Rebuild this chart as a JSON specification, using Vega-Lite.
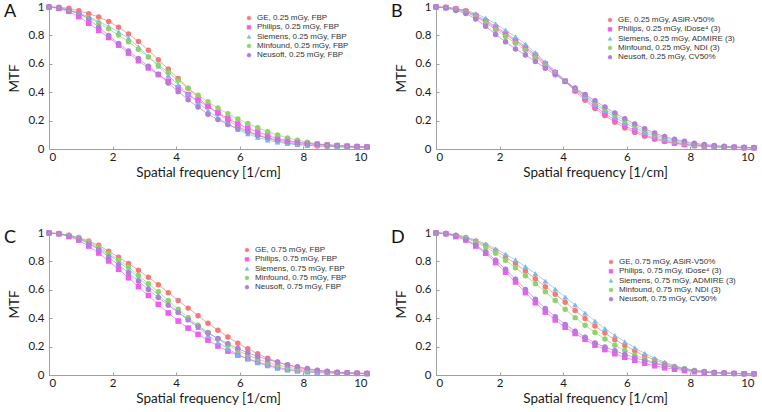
{
"$schema":"https://vega.github.io/schema/vega-lite/v6.json",
"padding":{"left":3,"top":1,"right":2,"bottom":2},
"background":"white",
"datasets":{
"A":[
{"x":0,"GE":1,"Philips":1,"Siemens":1,"Minfound":1,"Neusoft":1},
{"x":0.3125,"GE":0.998,"Philips":0.99,"Siemens":0.996,"Minfound":0.994,"Neusoft":0.994},
{"x":0.625,"GE":0.991,"Philips":0.969,"Siemens":0.981,"Minfound":0.976,"Neusoft":0.976},
{"x":0.9375,"GE":0.973,"Philips":0.932,"Siemens":0.959,"Minfound":0.955,"Neusoft":0.955},
{"x":1.25,"GE":0.953,"Philips":0.885,"Siemens":0.93,"Minfound":0.923,"Neusoft":0.915},
{"x":1.5625,"GE":0.929,"Philips":0.835,"Siemens":0.898,"Minfound":0.887,"Neusoft":0.858},
{"x":1.875,"GE":0.898,"Philips":0.785,"Siemens":0.864,"Minfound":0.846,"Neusoft":0.799},
{"x":2.1875,"GE":0.857,"Philips":0.731,"Siemens":0.824,"Minfound":0.802,"Neusoft":0.743},
{"x":2.5,"GE":0.81,"Philips":0.675,"Siemens":0.78,"Minfound":0.755,"Neusoft":0.69},
{"x":2.8125,"GE":0.757,"Philips":0.622,"Siemens":0.718,"Minfound":0.702,"Neusoft":0.637},
{"x":3.125,"GE":0.695,"Philips":0.571,"Siemens":0.653,"Minfound":0.648,"Neusoft":0.583},
{"x":3.4375,"GE":0.628,"Philips":0.524,"Siemens":0.584,"Minfound":0.591,"Neusoft":0.526},
{"x":3.75,"GE":0.563,"Philips":0.478,"Siemens":0.518,"Minfound":0.538,"Neusoft":0.465},
{"x":4.0625,"GE":0.497,"Philips":0.431,"Siemens":0.452,"Minfound":0.484,"Neusoft":0.404},
{"x":4.375,"GE":0.428,"Philips":0.384,"Siemens":0.386,"Minfound":0.427,"Neusoft":0.347},
{"x":4.6875,"GE":0.362,"Philips":0.34,"Siemens":0.326,"Minfound":0.378,"Neusoft":0.295},
{"x":5,"GE":0.3,"Philips":0.3,"Siemens":0.27,"Minfound":0.332,"Neusoft":0.245},
{"x":5.3125,"GE":0.25,"Philips":0.256,"Siemens":0.22,"Minfound":0.289,"Neusoft":0.207},
{"x":5.625,"GE":0.203,"Philips":0.215,"Siemens":0.175,"Minfound":0.248,"Neusoft":0.173},
{"x":5.9375,"GE":0.159,"Philips":0.177,"Siemens":0.137,"Minfound":0.212,"Neusoft":0.145},
{"x":6.25,"GE":0.125,"Philips":0.147,"Siemens":0.107,"Minfound":0.18,"Neusoft":0.12},
{"x":6.5625,"GE":0.096,"Philips":0.12,"Siemens":0.081,"Minfound":0.15,"Neusoft":0.097},
{"x":6.875,"GE":0.074,"Philips":0.095,"Siemens":0.062,"Minfound":0.122,"Neusoft":0.079},
{"x":7.1875,"GE":0.056,"Philips":0.075,"Siemens":0.048,"Minfound":0.098,"Neusoft":0.064},
{"x":7.5,"GE":0.042,"Philips":0.06,"Siemens":0.037,"Minfound":0.078,"Neusoft":0.052},
{"x":7.8125,"GE":0.033,"Philips":0.047,"Siemens":0.031,"Minfound":0.062,"Neusoft":0.045},
{"x":8.125,"GE":0.026,"Philips":0.038,"Siemens":0.026,"Minfound":0.048,"Neusoft":0.038},
{"x":8.4375,"GE":0.021,"Philips":0.033,"Siemens":0.023,"Minfound":0.037,"Neusoft":0.033},
{"x":8.75,"GE":0.018,"Philips":0.028,"Siemens":0.02,"Minfound":0.03,"Neusoft":0.029},
{"x":9.0625,"GE":0.015,"Philips":0.024,"Siemens":0.017,"Minfound":0.024,"Neusoft":0.024},
{"x":9.375,"GE":0.013,"Philips":0.02,"Siemens":0.014,"Minfound":0.02,"Neusoft":0.02},
{"x":9.6875,"GE":0.011,"Philips":0.017,"Siemens":0.012,"Minfound":0.017,"Neusoft":0.017},
{"x":10,"GE":0.01,"Philips":0.015,"Siemens":0.01,"Minfound":0.015,"Neusoft":0.015}
],
"B":[
{"x":0,"GE":1,"Philips":1,"Siemens":1,"Minfound":1,"Neusoft":1},
{"x":0.3125,"GE":0.998,"Philips":0.996,"Siemens":0.998,"Minfound":0.996,"Neusoft":0.993},
{"x":0.625,"GE":0.989,"Philips":0.984,"Siemens":0.99,"Minfound":0.983,"Neusoft":0.976},
{"x":0.9375,"GE":0.973,"Philips":0.968,"Siemens":0.977,"Minfound":0.964,"Neusoft":0.955},
{"x":1.25,"GE":0.943,"Philips":0.935,"Siemens":0.953,"Minfound":0.93,"Neusoft":0.915},
{"x":1.5625,"GE":0.906,"Philips":0.896,"Siemens":0.922,"Minfound":0.89,"Neusoft":0.864},
{"x":1.875,"GE":0.863,"Philips":0.852,"Siemens":0.882,"Minfound":0.84,"Neusoft":0.807},
{"x":2.1875,"GE":0.817,"Philips":0.807,"Siemens":0.837,"Minfound":0.792,"Neusoft":0.755},
{"x":2.5,"GE":0.77,"Philips":0.76,"Siemens":0.79,"Minfound":0.745,"Neusoft":0.705},
{"x":2.8125,"GE":0.72,"Philips":0.71,"Siemens":0.738,"Minfound":0.695,"Neusoft":0.662},
{"x":3.125,"GE":0.665,"Philips":0.656,"Siemens":0.679,"Minfound":0.643,"Neusoft":0.617},
{"x":3.4375,"GE":0.603,"Philips":0.597,"Siemens":0.613,"Minfound":0.586,"Neusoft":0.569},
{"x":3.75,"GE":0.54,"Philips":0.537,"Siemens":0.548,"Minfound":0.532,"Neusoft":0.523},
{"x":4.0625,"GE":0.476,"Philips":0.477,"Siemens":0.483,"Minfound":0.479,"Neusoft":0.476},
{"x":4.375,"GE":0.407,"Philips":0.415,"Siemens":0.424,"Minfound":0.426,"Neusoft":0.429},
{"x":4.6875,"GE":0.344,"Philips":0.356,"Siemens":0.368,"Minfound":0.375,"Neusoft":0.384},
{"x":5,"GE":0.285,"Philips":0.3,"Siemens":0.315,"Minfound":0.325,"Neusoft":0.34},
{"x":5.3125,"GE":0.235,"Philips":0.25,"Siemens":0.268,"Minfound":0.281,"Neusoft":0.296},
{"x":5.625,"GE":0.189,"Philips":0.204,"Siemens":0.224,"Minfound":0.239,"Neusoft":0.254},
{"x":5.9375,"GE":0.148,"Philips":0.163,"Siemens":0.183,"Minfound":0.198,"Neusoft":0.213},
{"x":6.25,"GE":0.117,"Philips":0.13,"Siemens":0.148,"Minfound":0.163,"Neusoft":0.177},
{"x":6.5625,"GE":0.089,"Philips":0.1,"Siemens":0.115,"Minfound":0.129,"Neusoft":0.143},
{"x":6.875,"GE":0.069,"Philips":0.077,"Siemens":0.09,"Minfound":0.101,"Neusoft":0.112},
{"x":7.1875,"GE":0.052,"Philips":0.058,"Siemens":0.069,"Minfound":0.079,"Neusoft":0.088},
{"x":7.5,"GE":0.04,"Philips":0.042,"Siemens":0.05,"Minfound":0.06,"Neusoft":0.068},
{"x":7.8125,"GE":0.031,"Philips":0.032,"Siemens":0.038,"Minfound":0.046,"Neusoft":0.054},
{"x":8.125,"GE":0.023,"Philips":0.025,"Siemens":0.028,"Minfound":0.035,"Neusoft":0.041},
{"x":8.4375,"GE":0.019,"Philips":0.02,"Siemens":0.021,"Minfound":0.027,"Neusoft":0.032},
{"x":8.75,"GE":0.015,"Philips":0.016,"Siemens":0.018,"Minfound":0.021,"Neusoft":0.025},
{"x":9.0625,"GE":0.012,"Philips":0.012,"Siemens":0.015,"Minfound":0.016,"Neusoft":0.019},
{"x":9.375,"GE":0.01,"Philips":0.011,"Siemens":0.012,"Minfound":0.013,"Neusoft":0.015},
{"x":9.6875,"GE":0.009,"Philips":0.009,"Siemens":0.01,"Minfound":0.011,"Neusoft":0.012},
{"x":10,"GE":0.008,"Philips":0.008,"Siemens":0.008,"Minfound":0.009,"Neusoft":0.01}
],
"C":[
{"x":0,"GE":1,"Philips":1,"Siemens":1,"Minfound":1,"Neusoft":1},
{"x":0.3125,"GE":0.996,"Philips":0.994,"Siemens":0.996,"Minfound":0.996,"Neusoft":0.994},
{"x":0.625,"GE":0.984,"Philips":0.975,"Siemens":0.983,"Minfound":0.984,"Neusoft":0.978},
{"x":0.9375,"GE":0.968,"Philips":0.95,"Siemens":0.964,"Minfound":0.968,"Neusoft":0.959},
{"x":1.25,"GE":0.943,"Philips":0.908,"Siemens":0.93,"Minfound":0.938,"Neusoft":0.925},
{"x":1.5625,"GE":0.913,"Philips":0.859,"Siemens":0.891,"Minfound":0.901,"Neusoft":0.884},
{"x":1.875,"GE":0.872,"Philips":0.803,"Siemens":0.848,"Minfound":0.858,"Neusoft":0.831},
{"x":2.1875,"GE":0.829,"Philips":0.744,"Siemens":0.798,"Minfound":0.81,"Neusoft":0.776},
{"x":2.5,"GE":0.785,"Philips":0.685,"Siemens":0.745,"Minfound":0.76,"Neusoft":0.72},
{"x":2.8125,"GE":0.738,"Philips":0.622,"Siemens":0.686,"Minfound":0.701,"Neusoft":0.661},
{"x":3.125,"GE":0.689,"Philips":0.56,"Siemens":0.625,"Minfound":0.643,"Neusoft":0.602},
{"x":3.4375,"GE":0.636,"Philips":0.497,"Siemens":0.562,"Minfound":0.586,"Neusoft":0.546},
{"x":3.75,"GE":0.58,"Philips":0.437,"Siemens":0.503,"Minfound":0.525,"Neusoft":0.492},
{"x":4.0625,"GE":0.524,"Philips":0.38,"Siemens":0.444,"Minfound":0.463,"Neusoft":0.44},
{"x":4.375,"GE":0.471,"Philips":0.33,"Siemens":0.388,"Minfound":0.404,"Neusoft":0.39},
{"x":4.6875,"GE":0.418,"Philips":0.286,"Siemens":0.333,"Minfound":0.35,"Neusoft":0.34},
{"x":5,"GE":0.365,"Philips":0.245,"Siemens":0.28,"Minfound":0.3,"Neusoft":0.295},
{"x":5.3125,"GE":0.315,"Philips":0.204,"Siemens":0.23,"Minfound":0.253,"Neusoft":0.257},
{"x":5.625,"GE":0.268,"Philips":0.168,"Siemens":0.184,"Minfound":0.21,"Neusoft":0.221},
{"x":5.9375,"GE":0.224,"Philips":0.14,"Siemens":0.143,"Minfound":0.172,"Neusoft":0.187},
{"x":6.25,"GE":0.185,"Philips":0.115,"Siemens":0.113,"Minfound":0.14,"Neusoft":0.157},
{"x":6.5625,"GE":0.149,"Philips":0.091,"Siemens":0.086,"Minfound":0.111,"Neusoft":0.13},
{"x":6.875,"GE":0.118,"Philips":0.072,"Siemens":0.064,"Minfound":0.089,"Neusoft":0.109},
{"x":7.1875,"GE":0.092,"Philips":0.055,"Siemens":0.047,"Minfound":0.07,"Neusoft":0.089},
{"x":7.5,"GE":0.07,"Philips":0.04,"Siemens":0.035,"Minfound":0.055,"Neusoft":0.072},
{"x":7.8125,"GE":0.054,"Philips":0.032,"Siemens":0.027,"Minfound":0.043,"Neusoft":0.058},
{"x":8.125,"GE":0.041,"Philips":0.026,"Siemens":0.02,"Minfound":0.032,"Neusoft":0.045},
{"x":8.4375,"GE":0.032,"Philips":0.021,"Siemens":0.016,"Minfound":0.026,"Neusoft":0.034},
{"x":8.75,"GE":0.025,"Philips":0.018,"Siemens":0.014,"Minfound":0.021,"Neusoft":0.026},
{"x":9.0625,"GE":0.019,"Philips":0.015,"Siemens":0.012,"Minfound":0.017,"Neusoft":0.019},
{"x":9.375,"GE":0.016,"Philips":0.013,"Siemens":0.01,"Minfound":0.014,"Neusoft":0.015},
{"x":9.6875,"GE":0.014,"Philips":0.011,"Siemens":0.009,"Minfound":0.012,"Neusoft":0.012},
{"x":10,"GE":0.012,"Philips":0.01,"Siemens":0.008,"Minfound":0.01,"Neusoft":0.01}
],
"D":[
{"x":0,"GE":1,"Philips":1,"Siemens":1,"Minfound":1,"Neusoft":1},
{"x":0.3125,"GE":0.996,"Philips":0.994,"Siemens":0.998,"Minfound":0.996,"Neusoft":0.996},
{"x":0.625,"GE":0.984,"Philips":0.975,"Siemens":0.989,"Minfound":0.983,"Neusoft":0.98},
{"x":0.9375,"GE":0.968,"Philips":0.95,"Siemens":0.973,"Minfound":0.964,"Neusoft":0.955},
{"x":1.25,"GE":0.943,"Philips":0.908,"Siemens":0.95,"Minfound":0.935,"Neusoft":0.915},
{"x":1.5625,"GE":0.913,"Philips":0.857,"Siemens":0.923,"Minfound":0.901,"Neusoft":0.868},
{"x":1.875,"GE":0.876,"Philips":0.791,"Siemens":0.889,"Minfound":0.858,"Neusoft":0.809},
{"x":2.1875,"GE":0.832,"Philips":0.724,"Siemens":0.851,"Minfound":0.808,"Neusoft":0.744},
{"x":2.5,"GE":0.785,"Philips":0.655,"Siemens":0.81,"Minfound":0.755,"Neusoft":0.675},
{"x":2.8125,"GE":0.732,"Philips":0.58,"Siemens":0.764,"Minfound":0.699,"Neusoft":0.603},
{"x":3.125,"GE":0.678,"Philips":0.509,"Siemens":0.714,"Minfound":0.643,"Neusoft":0.534},
{"x":3.4375,"GE":0.621,"Philips":0.443,"Siemens":0.661,"Minfound":0.586,"Neusoft":0.468},
{"x":3.75,"GE":0.568,"Philips":0.388,"Siemens":0.605,"Minfound":0.525,"Neusoft":0.41},
{"x":4.0625,"GE":0.513,"Philips":0.336,"Siemens":0.549,"Minfound":0.463,"Neusoft":0.356},
{"x":4.375,"GE":0.454,"Philips":0.292,"Siemens":0.493,"Minfound":0.404,"Neusoft":0.309},
{"x":4.6875,"GE":0.398,"Philips":0.251,"Siemens":0.436,"Minfound":0.35,"Neusoft":0.266},
{"x":5,"GE":0.345,"Philips":0.21,"Siemens":0.38,"Minfound":0.3,"Neusoft":0.225},
{"x":5.3125,"GE":0.295,"Philips":0.179,"Siemens":0.327,"Minfound":0.253,"Neusoft":0.197},
{"x":5.625,"GE":0.249,"Philips":0.15,"Siemens":0.278,"Minfound":0.21,"Neusoft":0.17},
{"x":5.9375,"GE":0.208,"Philips":0.125,"Siemens":0.234,"Minfound":0.172,"Neusoft":0.145},
{"x":6.25,"GE":0.17,"Philips":0.103,"Siemens":0.192,"Minfound":0.14,"Neusoft":0.122},
{"x":6.5625,"GE":0.134,"Philips":0.082,"Siemens":0.152,"Minfound":0.111,"Neusoft":0.101},
{"x":6.875,"GE":0.106,"Philips":0.065,"Siemens":0.119,"Minfound":0.089,"Neusoft":0.083},
{"x":7.1875,"GE":0.081,"Philips":0.051,"Siemens":0.09,"Minfound":0.07,"Neusoft":0.066},
{"x":7.5,"GE":0.06,"Philips":0.04,"Siemens":0.065,"Minfound":0.055,"Neusoft":0.05},
{"x":7.8125,"GE":0.044,"Philips":0.031,"Siemens":0.048,"Minfound":0.042,"Neusoft":0.038},
{"x":8.125,"GE":0.032,"Philips":0.023,"Siemens":0.034,"Minfound":0.031,"Neusoft":0.028},
{"x":8.4375,"GE":0.024,"Philips":0.018,"Siemens":0.024,"Minfound":0.024,"Neusoft":0.021},
{"x":8.75,"GE":0.018,"Philips":0.015,"Siemens":0.019,"Minfound":0.018,"Neusoft":0.018},
{"x":9.0625,"GE":0.014,"Philips":0.012,"Siemens":0.014,"Minfound":0.014,"Neusoft":0.014},
{"x":9.375,"GE":0.011,"Philips":0.011,"Siemens":0.011,"Minfound":0.011,"Neusoft":0.011},
{"x":9.6875,"GE":0.009,"Philips":0.009,"Siemens":0.009,"Minfound":0.009,"Neusoft":0.009},
{"x":10,"GE":0.008,"Philips":0.008,"Siemens":0.008,"Minfound":0.008,"Neusoft":0.008}
]
},
"columns":2,
"spacing":{"column":19,"row":48},
"resolve":{"scale":{"color":"independent","shape":"independent"},"legend":{"color":"independent","shape":"independent"}},
"concat":[
{"width":318,"height":142,"title":{"text":"A"},"data":{"name":"A"},
"transform":[{"fold":["GE","Philips","Siemens","Minfound","Neusoft"],"as":["series","mtf"]}],
"encoding":{
"x":{"field":"x","type":"quantitative","scale":{"domain":[0,10]},"axis":{"values":[0,2,4,6,8,10],"title":"Spatial frequency [1/cm]"}},
"y":{"field":"mtf","type":"quantitative","scale":{"domain":[0,1]},"axis":{"values":[0,0.2,0.4,0.6,0.8,1],"format":"~g","title":"MTF"}},
"color":{"field":"series","type":"nominal","scale":{"domain":["GE","Philips","Siemens","Minfound","Neusoft"],"range":["#f47a7a","#f25cf0","#74bde8","#8fd46a","#b07fd6"]},"legend":{"title":null,"orient":"none","legendX":196,"legendY":7,"labelExpr":"datum.label + ', 0.25 mGy, FBP'"}},
"shape":{"field":"series","type":"nominal","scale":{"domain":["GE","Philips","Siemens","Minfound","Neusoft"],"range":["circle","square","triangle-up","circle","circle"]},"legend":{"title":null,"orient":"none","legendX":196,"legendY":7,"labelExpr":"datum.label + ', 0.25 mGy, FBP'"}}},
"layer":[{"mark":{"type":"line","strokeWidth":0.7}},
{"transform":[{"filter":{"field":"series","oneOf":["Philips","Siemens","Neusoft"]}}],"mark":{"type":"point","filled":false,"size":18,"strokeWidth":0.5}},
{"transform":[{"filter":{"field":"series","oneOf":["GE","Minfound"]}}],"mark":{"type":"circle","size":3}}]},
{"width":318,"height":142,"title":{"text":"B"},"data":{"name":"B"},
"transform":[{"fold":["GE","Philips","Siemens","Minfound","Neusoft"],"as":["series","mtf"]}],
"encoding":{
"x":{"field":"x","type":"quantitative","scale":{"domain":[0,10]},"axis":{"values":[0,2,4,6,8,10],"title":"Spatial frequency [1/cm]"}},
"y":{"field":"mtf","type":"quantitative","scale":{"domain":[0,1]},"axis":{"values":[0,0.2,0.4,0.6,0.8,1],"format":"~g","title":"MTF"}},
"color":{"field":"series","type":"nominal","scale":{"domain":["GE","Philips","Siemens","Minfound","Neusoft"],"range":["#f47a7a","#f25cf0","#74bde8","#8fd46a","#b07fd6"]},"legend":{"title":null,"orient":"none","legendX":170,"legendY":9,"labelExpr":"{'GE':'GE, 0.25 mGy, ASiR-V50%','Philips':'Philips, 0.25 mGy, iDose⁴ (3)','Siemens':'Siemens, 0.25 mGy, ADMIRE (3)','Minfound':'Minfound, 0.25 mGy, NDI (3)','Neusoft':'Neusoft, 0.25 mGy, CV50%'}[datum.label]"}},
"shape":{"field":"series","type":"nominal","scale":{"domain":["GE","Philips","Siemens","Minfound","Neusoft"],"range":["circle","square","triangle-up","circle","circle"]},"legend":{"title":null,"orient":"none","legendX":170,"legendY":9,"labelExpr":"{'GE':'GE, 0.25 mGy, ASiR-V50%','Philips':'Philips, 0.25 mGy, iDose⁴ (3)','Siemens':'Siemens, 0.25 mGy, ADMIRE (3)','Minfound':'Minfound, 0.25 mGy, NDI (3)','Neusoft':'Neusoft, 0.25 mGy, CV50%'}[datum.label]"}}},
"layer":[{"mark":{"type":"line","strokeWidth":0.7}},
{"transform":[{"filter":{"field":"series","oneOf":["Philips","Siemens","Neusoft"]}}],"mark":{"type":"point","filled":false,"size":18,"strokeWidth":0.5}},
{"transform":[{"filter":{"field":"series","oneOf":["GE","Minfound"]}}],"mark":{"type":"circle","size":3}}]},
{"width":318,"height":142,"title":{"text":"C"},"data":{"name":"C"},
"transform":[{"fold":["GE","Philips","Siemens","Minfound","Neusoft"],"as":["series","mtf"]}],
"encoding":{
"x":{"field":"x","type":"quantitative","scale":{"domain":[0,10]},"axis":{"values":[0,2,4,6,8,10],"title":"Spatial frequency [1/cm]"}},
"y":{"field":"mtf","type":"quantitative","scale":{"domain":[0,1]},"axis":{"values":[0,0.2,0.4,0.6,0.8,1],"format":"~g","title":"MTF"}},
"color":{"field":"series","type":"nominal","scale":{"domain":["GE","Philips","Siemens","Minfound","Neusoft"],"range":["#f47a7a","#f25cf0","#74bde8","#8fd46a","#b07fd6"]},"legend":{"title":null,"orient":"none","legendX":194,"legendY":13,"labelExpr":"datum.label + ', 0.75 mGy, FBP'"}},
"shape":{"field":"series","type":"nominal","scale":{"domain":["GE","Philips","Siemens","Minfound","Neusoft"],"range":["circle","square","triangle-up","circle","circle"]},"legend":{"title":null,"orient":"none","legendX":194,"legendY":13,"labelExpr":"datum.label + ', 0.75 mGy, FBP'"}}},
"layer":[{"mark":{"type":"line","strokeWidth":0.7}},
{"transform":[{"filter":{"field":"series","oneOf":["Philips","Siemens","Neusoft"]}}],"mark":{"type":"point","filled":false,"size":18,"strokeWidth":0.5}},
{"transform":[{"filter":{"field":"series","oneOf":["GE","Minfound"]}}],"mark":{"type":"circle","size":3}}]},
{"width":318,"height":142,"title":{"text":"D"},"data":{"name":"D"},
"transform":[{"fold":["GE","Philips","Siemens","Minfound","Neusoft"],"as":["series","mtf"]}],
"encoding":{
"x":{"field":"x","type":"quantitative","scale":{"domain":[0,10]},"axis":{"values":[0,2,4,6,8,10],"title":"Spatial frequency [1/cm]"}},
"y":{"field":"mtf","type":"quantitative","scale":{"domain":[0,1]},"axis":{"values":[0,0.2,0.4,0.6,0.8,1],"format":"~g","title":"MTF"}},
"color":{"field":"series","type":"nominal","scale":{"domain":["GE","Philips","Siemens","Minfound","Neusoft"],"range":["#f47a7a","#f25cf0","#74bde8","#8fd46a","#b07fd6"]},"legend":{"title":null,"orient":"none","legendX":171,"legendY":25,"labelExpr":"{'GE':'GE, 0.75 mGy, ASiR-V50%','Philips':'Philips, 0.75 mGy, iDose⁴ (3)','Siemens':'Siemens, 0.75 mGy, ADMIRE (3)','Minfound':'Minfound, 0.75 mGy, NDI (3)','Neusoft':'Neusoft, 0.75 mGy, CV50%'}[datum.label]"}},
"shape":{"field":"series","type":"nominal","scale":{"domain":["GE","Philips","Siemens","Minfound","Neusoft"],"range":["circle","square","triangle-up","circle","circle"]},"legend":{"title":null,"orient":"none","legendX":171,"legendY":25,"labelExpr":"{'GE':'GE, 0.75 mGy, ASiR-V50%','Philips':'Philips, 0.75 mGy, iDose⁴ (3)','Siemens':'Siemens, 0.75 mGy, ADMIRE (3)','Minfound':'Minfound, 0.75 mGy, NDI (3)','Neusoft':'Neusoft, 0.75 mGy, CV50%'}[datum.label]"}}},
"layer":[{"mark":{"type":"line","strokeWidth":0.7}},
{"transform":[{"filter":{"field":"series","oneOf":["Philips","Siemens","Neusoft"]}}],"mark":{"type":"point","filled":false,"size":18,"strokeWidth":0.5}},
{"transform":[{"filter":{"field":"series","oneOf":["GE","Minfound"]}}],"mark":{"type":"circle","size":3}}]}
],
"config":{
"view":{"stroke":null},
"font":"Lato",
"axis":{"grid":false,"domainColor":"#a0a0a0","tickColor":"#a0a0a0","tickSize":-3,"labelFontSize":11.5,"titleFontSize":13.5,"titleFontWeight":"normal","labelColor":"#1a1a1a","titleColor":"#1a1a1a","labelFont":"Lato","titleFont":"Lato"},
"axisX":{"labelPadding":5,"titlePadding":3},
"axisY":{"labelPadding":8,"titlePadding":6},
"legend":{"labelFontSize":8,"labelFont":"Liberation Sans","labelColor":"#333","rowPadding":1.3,"symbolSize":14,"symbolStrokeWidth":0.6,"padding":0},
"title":{"fontSize":18,"fontWeight":"normal","anchor":"start","frame":"bounds","offset":-20,"dx":-4,"font":"Lato","color":"#111"}
}
}
